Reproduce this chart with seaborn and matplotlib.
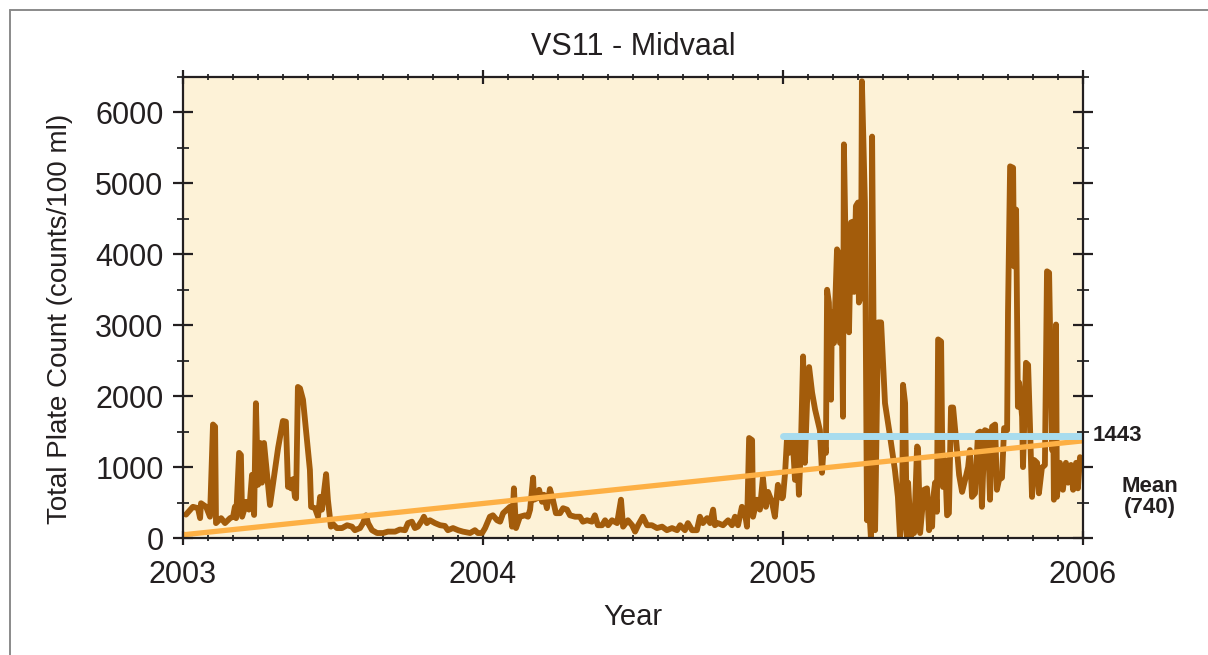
import matplotlib
matplotlib.use("Agg")
import numpy as np
import pandas as pd
import seaborn as sns
import matplotlib.pyplot as plt
from matplotlib.ticker import MultipleLocator, FixedLocator
from matplotlib.lines import Line2D

# ---------------- data ----------------
years_since_2003 = [
    0.010, 0.033, 0.050, 0.057, 0.060, 0.077, 0.090, 0.100, 0.107, 0.110,
    0.127, 0.140, 0.157, 0.167, 0.173, 0.177, 0.187, 0.193, 0.197, 0.207,
    0.210, 0.220, 0.223, 0.230, 0.237, 0.243, 0.250, 0.257, 0.263, 0.270,
    0.290, 0.317, 0.333, 0.343, 0.350, 0.357, 0.360, 0.367, 0.373, 0.377,
    0.383, 0.390, 0.400, 0.410, 0.423, 0.427, 0.440, 0.450, 0.457, 0.463,
    0.477, 0.483, 0.493,
    0.497, 0.513, 0.530, 0.547, 0.563, 0.573, 0.590, 0.600, 0.610, 0.617,
    0.630, 0.647, 0.667, 0.683, 0.707, 0.723, 0.740, 0.750, 0.763, 0.773,
    0.783, 0.797, 0.803, 0.813, 0.823, 0.840, 0.857, 0.873, 0.883, 0.900,
    0.917, 0.933, 0.957, 0.973, 0.983, 0.997, 1.007, 1.023,
    1.033, 1.047, 1.057, 1.067, 1.080, 1.090, 1.097, 1.103, 1.110, 1.123,
    1.140, 1.150, 1.157, 1.167, 1.170, 1.180, 1.187, 1.197, 1.203, 1.213,
    1.223, 1.233, 1.243, 1.257, 1.267, 1.280, 1.290, 1.307, 1.323, 1.333,
    1.347, 1.363, 1.373, 1.383, 1.397, 1.407, 1.417, 1.430, 1.447, 1.460,
    1.467, 1.483, 1.497, 1.507, 1.517, 1.533, 1.547, 1.563, 1.580, 1.597,
    1.613, 1.630, 1.647, 1.657, 1.673, 1.683, 1.697, 1.713, 1.723, 1.733,
    1.747, 1.757, 1.767, 1.773, 1.783, 1.800, 1.817, 1.830, 1.840, 1.850,
    1.863, 1.873, 1.880, 1.887, 1.897, 1.900, 1.913, 1.923, 1.933, 1.943,
    1.950, 1.963, 1.973, 1.983, 1.990, 1.997,
    2.000, 2.007, 2.013, 2.020, 2.027, 2.033, 2.040, 2.047, 2.053, 2.060,
    2.067, 2.073, 2.080, 2.087, 2.097, 2.107, 2.123, 2.130, 2.137, 2.143,
    2.147, 2.153, 2.160, 2.163, 2.170, 2.180, 2.183, 2.190, 2.197, 2.200,
    2.203, 2.210, 2.217, 2.220, 2.227, 2.233, 2.237, 2.243, 2.250, 2.253,
    2.260, 2.263, 2.273, 2.280, 2.283, 2.293, 2.297, 2.307, 2.317, 2.327,
    2.340, 2.357, 2.373, 2.383, 2.390, 2.397, 2.400, 2.407, 2.413, 2.417,
    2.427, 2.430, 2.437, 2.447, 2.450, 2.457, 2.463, 2.470, 2.480, 2.487,
    2.490, 2.497, 2.500, 2.507, 2.513, 2.517, 2.527, 2.530, 2.533, 2.540,
    2.547, 2.553, 2.560, 2.567, 2.580, 2.587, 2.597, 2.607, 2.617, 2.623,
    2.630, 2.640, 2.650, 2.657, 2.663, 2.667, 2.673, 2.683, 2.690, 2.697,
    2.707, 2.713, 2.720, 2.730, 2.737, 2.747, 2.750, 2.757, 2.767, 2.770,
    2.777, 2.783, 2.787, 2.797, 2.800, 2.810, 2.817, 2.823, 2.830, 2.837,
    2.847, 2.853, 2.863, 2.873, 2.880, 2.887, 2.897, 2.900, 2.903, 2.910,
    2.913, 2.923, 2.933, 2.943, 2.950, 2.960, 2.967, 2.977, 2.983, 2.990,
    2.997,
]
plate_count = [
    330, 440, 420, 280, 490, 440, 300, 1600, 1570, 210,
    280, 210, 280, 300, 440, 280, 1200, 1170, 300, 440,
    510, 400, 510, 890, 325, 1900, 750, 1340, 780, 1340,
    465, 1270, 1650, 1640, 720, 820, 700, 830, 580, 560,
    2130, 2110, 1950, 1520, 960, 440, 420, 300, 580, 400,
    900, 540, 160,
    210, 140, 140, 180, 160, 110, 140, 210, 320, 210,
    110, 70, 70, 90, 90, 120, 110, 210, 230, 140,
    160, 250, 300, 210, 250, 210, 180, 170, 110, 140,
    110, 90, 70, 110, 70, 70, 140, 300,
    320, 250, 230, 350, 400, 440, 160, 700, 140, 300,
    320, 300, 400, 850, 540, 560, 680, 510, 610, 420,
    690, 540, 350, 350, 420, 400, 320, 300, 300, 230,
    250, 230, 320, 180, 180, 250, 180, 250, 210, 540,
    160, 250, 180, 90, 180, 300, 180, 180, 140, 160,
    110, 140, 110, 180, 110, 210, 110, 110, 300, 210,
    280, 210, 400, 180, 210, 180, 250, 180, 300, 180,
    440, 350, 160, 1410, 1380, 300, 540, 400, 850, 440,
    650, 510, 300, 750, 580, 560,
    580, 920, 1380, 1200, 1380, 1340, 820, 1380, 610, 1340,
    2560, 1060, 1900, 2410, 2050, 1810, 1520, 920, 1380, 1200,
    3500, 3320, 1950, 3180, 2750, 4070, 4040, 2750, 2750, 1710,
    5550, 3790, 3930, 2900, 4450, 4460, 3470, 4680, 4730, 3320,
    3400, 6440, 4730, 250, 720, 10, 5660, 110, 3040, 3040,
    1900, 1430, 960, 580, 10, 250, 2160, 1900, 10, 780,
    10, 350, 70, 1290, 1270, 70, 350, 680, 700, 110,
    490, 160, 540, 780, 370, 2800, 2770, 1570, 720, 1100,
    320, 350, 1840, 1840, 1240, 890, 650, 820, 1000, 1240,
    580, 630, 1480, 1500, 440, 920, 1520, 1500, 540, 1570,
    1600, 680, 820, 850, 1550, 1520, 3180, 5240, 5220, 3830,
    4630, 1850, 2190, 1710, 1000, 2470, 2440, 1620, 580, 1100,
    1060, 630, 990, 1030, 3760, 3740, 1240, 2190, 540, 3010,
    580, 1060, 680, 1060, 780, 1030, 680, 1060, 700, 1140,
    1070,
]
start_year = 2003
trend_years = [2003, 2006]
trend_values = [45, 1370]
limit_years = [2005, 2006]
limit_value = 1443
mean_value = 740
year_ticks = [2003, 2004, 2005, 2006]
count_ticks = [0, 1000, 2000, 3000, 4000, 5000, 6000]
title_text = "VS11 - Midvaal"
x_label = "Year"
y_label = "Total Plate Count (counts/100 ml)"

# ---------------- styling ----------------
sns.set_theme(style="ticks")
plt.rcParams['font.family'] = ['Liberation Sans', 'DejaVu Sans']

W, H = 1208, 655
fig = plt.figure(figsize=(W / 100, H / 100), dpi=100)
fig.patch.set_facecolor("white")

# outer frame lines (left and top)
fig.add_artist(Line2D([9.5 / W, 9.5 / W], [0, 1 - 9.5 / H], transform=fig.transFigure,
                      color="#8a8a8a", lw=1.4))
fig.add_artist(Line2D([9.5 / W, 1], [1 - 9.5 / H, 1 - 9.5 / H], transform=fig.transFigure,
                      color="#8a8a8a", lw=1.4))

ax = fig.add_axes([183 / W, 1 - 538 / H, 900 / W, 461 / H])
ax.set_facecolor("#FDF2D7")

df = pd.DataFrame({
    "Year": np.array(years_since_2003) + start_year,
    "Count": plate_count,
})
sns.lineplot(data=df, x="Year", y="Count", ax=ax, color="#A35C0B", lw=4.2,
             estimator=None, sort=False, zorder=3)
sns.lineplot(x=trend_years, y=trend_values, ax=ax, color="#FDB045", lw=3.8,
             estimator=None, sort=False, zorder=4)
sns.lineplot(x=limit_years, y=[limit_value] * len(limit_years), ax=ax, color="#A8DCEE",
             lw=5.0, estimator=None, sort=False, zorder=5)

ax.set_xlim(year_ticks[0], year_ticks[-1])
ax.set_ylim(0, 6500)
ax.xaxis.set_major_locator(FixedLocator(year_ticks))
ax.xaxis.set_minor_locator(MultipleLocator(1 / 12))
ax.yaxis.set_major_locator(FixedLocator(count_ticks))
ax.yaxis.set_minor_locator(MultipleLocator(500))
ax.set_xticklabels([str(y) for y in year_ticks])
ax.set_yticklabels([str(c) for c in count_ticks])

for s in ax.spines.values():
    s.set_color("#231f20")
    s.set_linewidth(1.6)
    s.set_zorder(6)

ax.tick_params(axis="x", which="major", direction="inout", length=10, width=1.6,
               top=True, bottom=True, labelsize=22, pad=10.5, colors="#231f20")
ax.tick_params(axis="x", which="minor", direction="inout", length=5, width=1.3,
               top=True, bottom=True)
ax.tick_params(axis="y", which="major", direction="inout", length=14, width=1.6,
               left=True, right=True, labelsize=22, pad=7, colors="#231f20")
ax.tick_params(axis="y", which="minor", direction="inout", length=9, width=1.3,
               left=True, right=True)
for lab in ax.get_xticklabels() + ax.get_yticklabels():
    lab.set_color("#231f20")

ax.set_xlabel(x_label, fontsize=21, color="#231f20")
ax.set_ylabel(y_label, fontsize=20, color="#231f20")
ax.xaxis.set_label_coords(0.5, -0.140)
ax.yaxis.set_label_coords(-0.122, 0.475)

fig.text(633 / W, 1 - 47 / H, title_text, ha="center", va="center",
         fontsize=22, color="#231f20")

ax.annotate(str(limit_value), xy=(1, limit_value), xycoords=("axes fraction", "data"),
            xytext=(7, 0), textcoords="offset points", ha="left", va="center",
            fontsize=16, fontweight="bold", color="#231f20", annotation_clip=False)
fig.text(1150 / W, 1 - 497 / H, f"Mean\n({mean_value})", ha="center", va="center",
         fontsize=16, fontweight="bold", color="#231f20", linespacing=1.0)

fig.savefig("out.png", dpi=100)
